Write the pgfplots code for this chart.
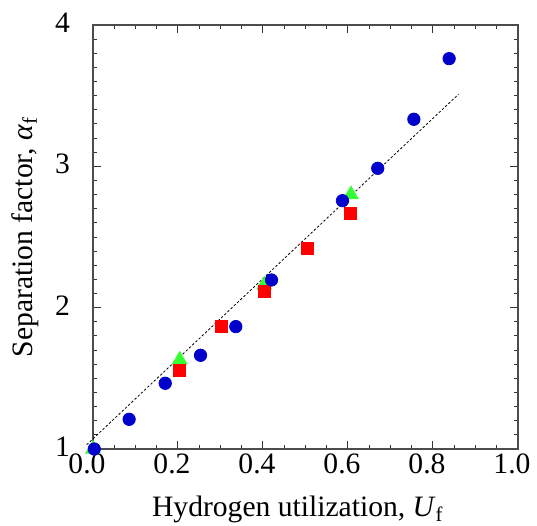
\documentclass[border=0pt]{standalone}
\usepackage{fontspec}
\setmainfont{Liberation Serif}
\usepackage{pgfplots}
\pgfplotsset{compat=1.18}
\definecolor{cblue}{HTML}{0000CC}
\definecolor{cred}{HTML}{FF0000}
\definecolor{cgreen}{HTML}{33FF33}
\begin{document}
\begin{tikzpicture}
\path[use as bounding box] (-46.5pt,-38.5pt) rectangle (222pt,224.5pt);
\begin{axis}[
  scale only axis,
  width=212.5pt, height=212pt,
  xmin=0, xmax=1.0, ymin=1, ymax=4,
  xtick={0,0.2,...,1.0},
  ytick={1,2,3,4},
  minor x tick num=3,
  minor y tick num=9,
  tick align=inside,
  major tick length=4pt,
  minor tick length=2.2pt,
  axis line style={line width=0.6pt, black!70},
  every tick/.style={black!80, line width=0.5pt},
  /pgf/number format/assume math mode=true,
  xticklabel style={font=\fontsize{14.8}{17}\selectfont, xshift=-3pt, yshift=1.2pt, /pgf/number format/.cd, fixed, fixed zerofill, precision=1},
  yticklabel style={font=\fontsize{14.8}{17}\selectfont, xshift=-8pt, yshift=1.2pt},
  xlabel={Hydrogen utilization, \textit{U}\textsubscript{f}},
  ylabel={Separation factor, \textit{α}\textsubscript{f}},
  label style={font=\fontsize{14.8}{17}\selectfont},
  xlabel style={at={(axis description cs:0.482,-0.160)}, anchor=base},
  ylabel style={at={(axis description cs:-0.16,0.5)}, anchor=center},
  clip=false,
]
\addplot[black, line width=0.4pt, dash pattern=on 1.2pt off 1pt] coordinates {(-0.015,1.03) (0.86,3.51)};
\addplot[only marks, mark=triangle*, mark size=4.2pt, color=cgreen] coordinates {
(0.0,1.0) (0.204,1.63) (0.403,2.16) (0.607,2.80)};
\addplot[only marks, mark=square*, mark size=3pt, color=cred] coordinates {
(0.203,1.554) (0.303,1.866) (0.403,2.116) (0.504,2.42) (0.605,2.668)};
\addplot[only marks, mark=*, mark size=3.1pt, color=cblue] coordinates {
(0.003,1.0) (0.085,1.21) (0.170,1.465) (0.253,1.663) (0.336,1.866) (0.420,2.196) (0.587,2.757) (0.670,2.986) (0.755,3.333) (0.838,3.762)};
\end{axis}
\end{tikzpicture}
\end{document}
